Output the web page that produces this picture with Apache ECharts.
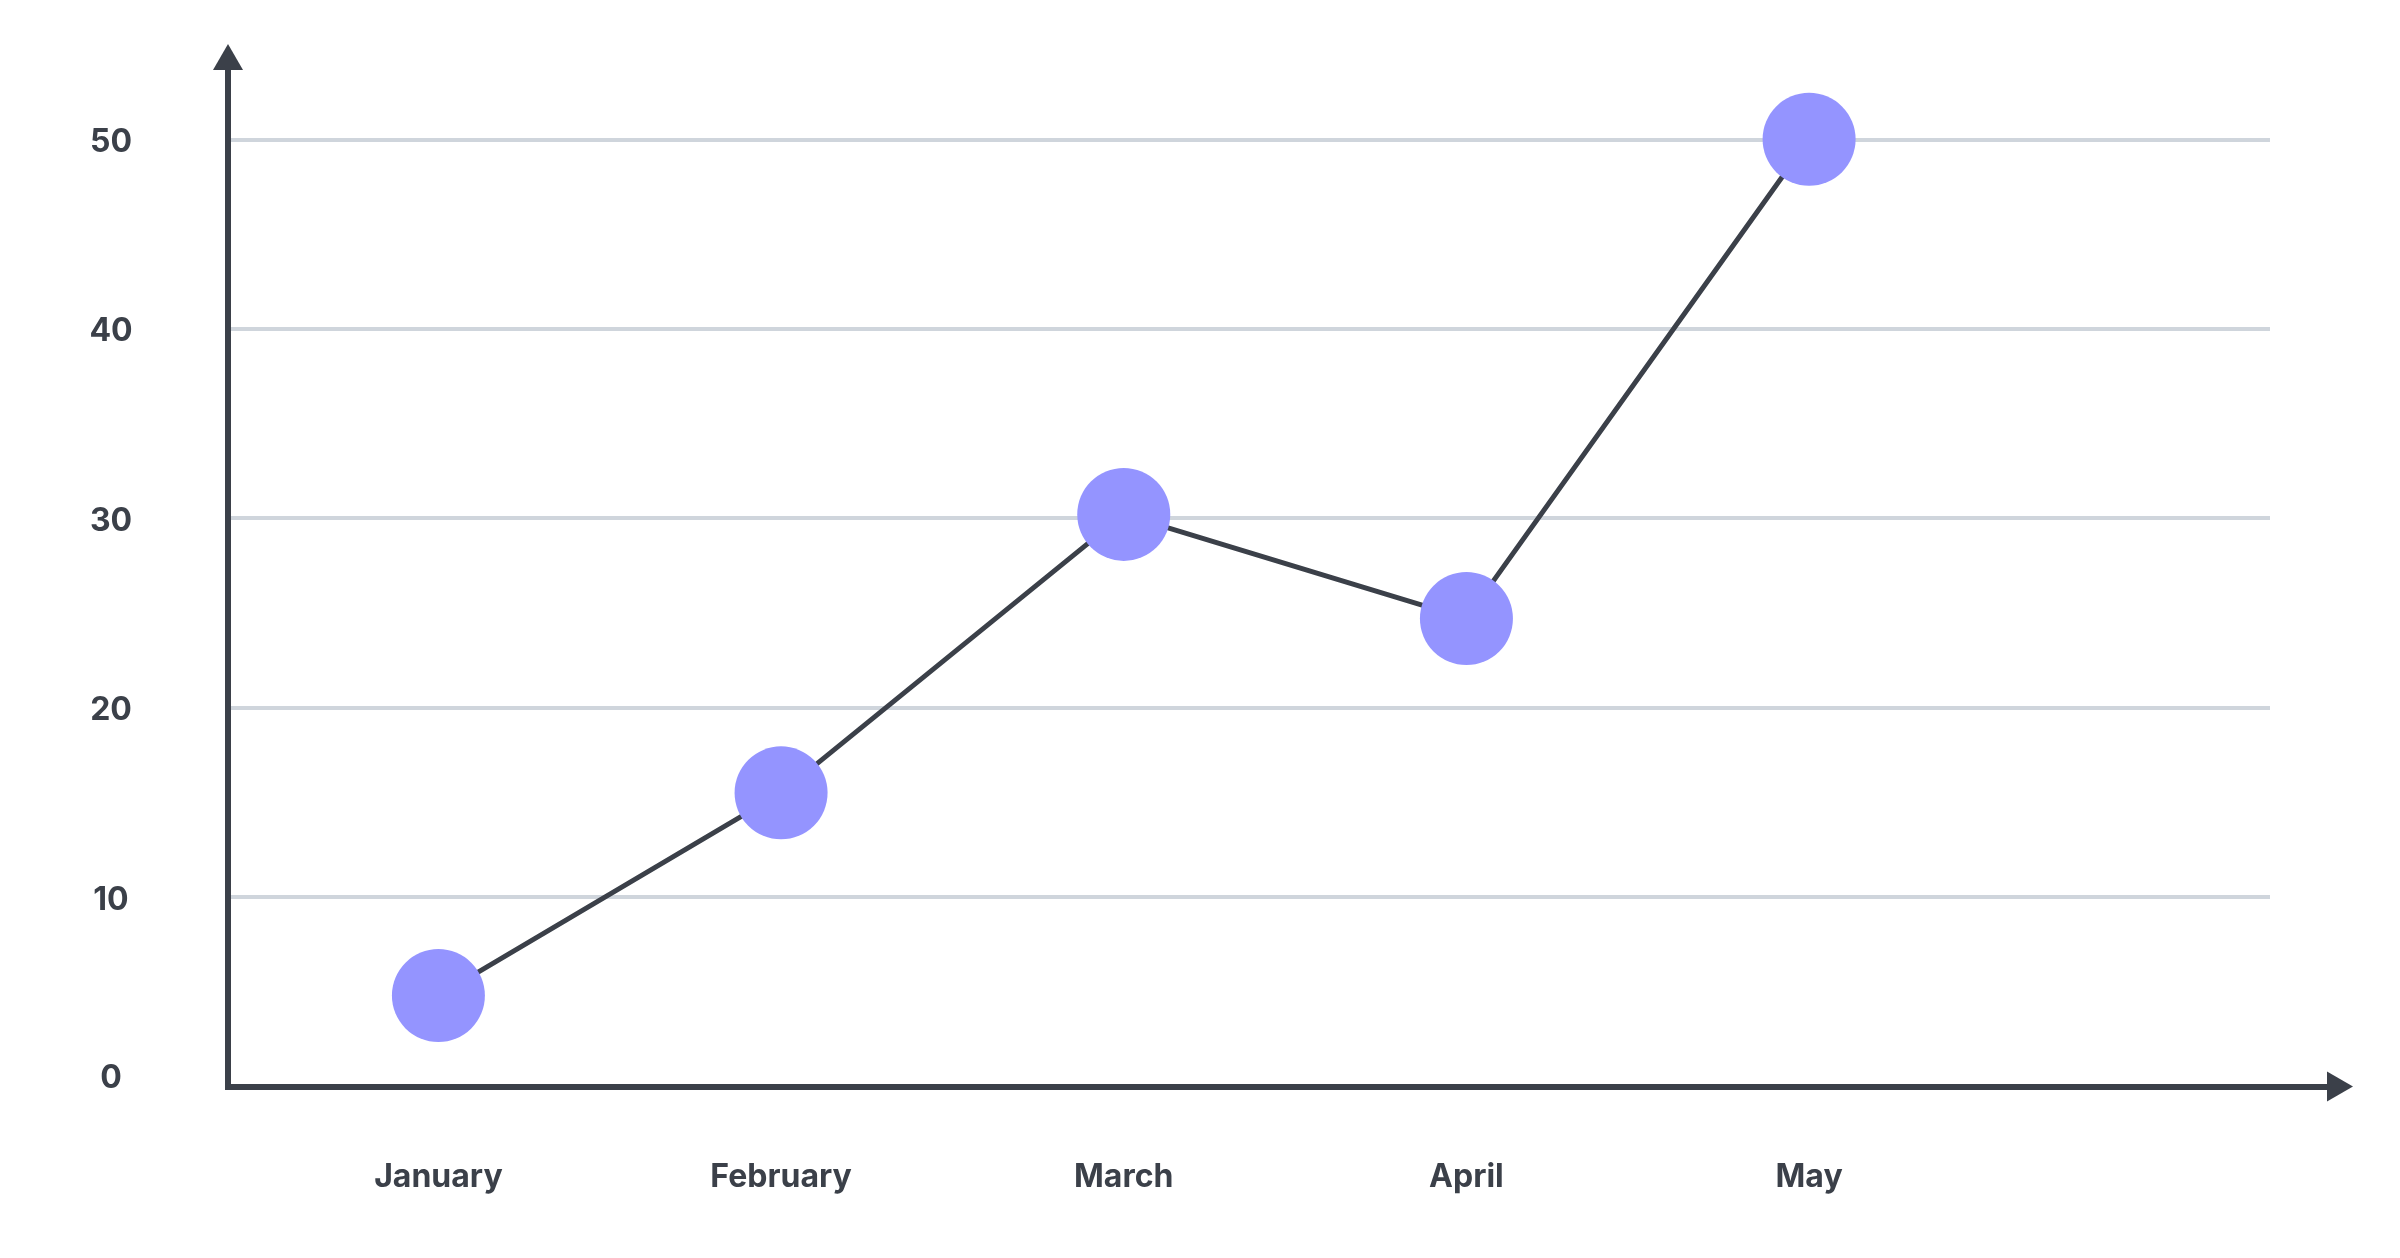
<!DOCTYPE html>
<html>
<head>
<meta charset="utf-8">
<style>
  html, body { margin: 0; padding: 0; background: #fff; }
  #chart { width: 2400px; height: 1258px; }
</style>
<script src="https://cdn.jsdelivr.net/npm/echarts@6/dist/echarts.min.js"></script>
</head>
<body>
<div id="chart"></div>
<script>
// data
var months = ['January', 'February', 'March', 'April', 'May'];
var values = [4.8, 15.5, 30.2, 24.7, 50];
var yTicks = [0, 10, 20, 30, 40, 50];

var ink = '#3b4049';
var labelFont = { color: ink, fontFamily: 'Inter', fontWeight: 700, fontSize: 32 };

var mychart = echarts.init(document.getElementById('chart'));
var option = {
    backgroundColor: '#fff',
    animation: false,
    grid: [
        // plot area: gridlines + data
        { left: 228, right: 130, top: 139.3, bottom: 171.5 },
        // axis lines with arrows, a bit longer than the gridlines
        { left: 228, right: 60, top: 57, bottom: 171.5 }
    ],
    xAxis: [
        {
            gridIndex: 0,
            type: 'value',
            min: -0.614,
            max: 5.345,
            axisLine: { show: false },
            axisTick: { show: false },
            splitLine: { show: false },
            axisLabel: Object.assign({
                margin: 75,
                lineHeight: 32,
                customValues: months.map(function (m, i) { return i; }),
                formatter: function (v) { return months[v]; }
            }, labelFont)
        },
        {
            gridIndex: 1,
            type: 'value',
            min: 0,
            max: 1,
            axisLine: {
                show: true,
                onZero: false,
                symbol: ['none', 'triangle'],
                symbolSize: [30, 26],
                lineStyle: { color: ink, width: 6, cap: 'square' }
            },
            axisTick: { show: false },
            axisLabel: { show: false },
            splitLine: { show: false }
        }
    ],
    yAxis: [
        {
            gridIndex: 0,
            type: 'value',
            min: yTicks[0],
            max: yTicks[yTicks.length - 1],
            interval: yTicks[1] - yTicks[0],
            axisLine: { show: false },
            axisTick: { show: false },
            splitLine: { lineStyle: { color: '#cfd5dc', width: 4 } },
            axisLabel: Object.assign({
                margin: 117,
                align: 'center',
                formatter: function (v) { return v === 0 ? '{z|0}' : '{n|' + v + '}'; },
                rich: {
                    n: Object.assign({ padding: [6, 0, 0, 0] }, labelFont),
                    z: Object.assign({ padding: [0, 0, 17, 0] }, labelFont)
                }
            }, labelFont)
        },
        {
            gridIndex: 1,
            type: 'value',
            min: 0,
            max: 1,
            axisLine: {
                show: true,
                onZero: false,
                symbol: ['none', 'triangle'],
                symbolSize: [30, 26],
                lineStyle: { color: ink, width: 6, cap: 'square' }
            },
            axisTick: { show: false },
            axisLabel: { show: false },
            splitLine: { show: false }
        }
    ],
    series: [
        {
            type: 'line',
            xAxisIndex: 0,
            yAxisIndex: 0,
            data: values.map(function (v, i) { return [i, v]; }),
            symbol: 'circle',
            symbolSize: 93,
            lineStyle: { color: ink, width: 5 },
            itemStyle: { color: '#9494ff' },
            z: 5
        }
    ]
};
mychart.setOption(option);
</script>
</body>
</html>
